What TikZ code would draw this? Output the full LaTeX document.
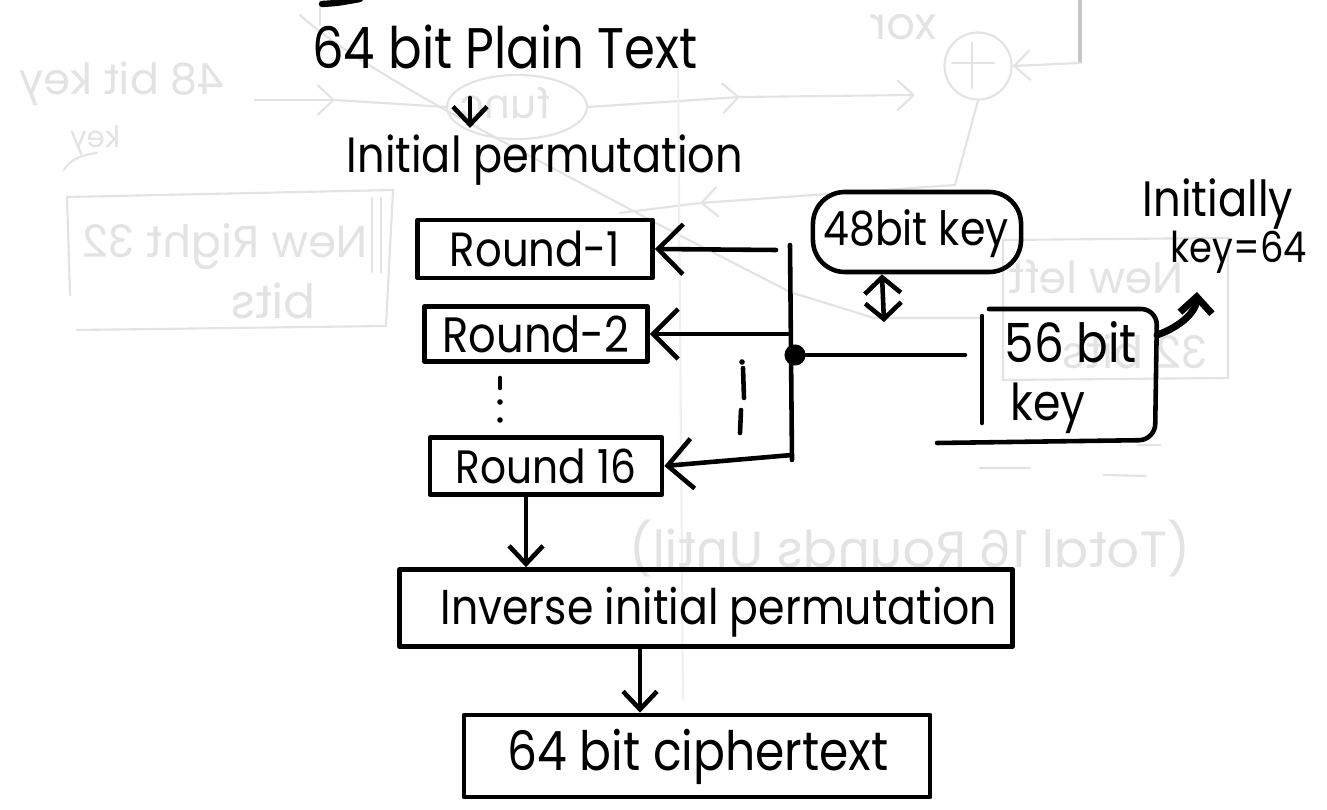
\documentclass[tikz,border=0pt]{standalone}
\usepackage{fontspec}
\setmainfont{Poppins}
\usepackage{graphicx}
\usetikzlibrary{arrows.meta,calc,shapes.geometric}
% text scaled to a given width (slightly tall, like the pen lettering), and mirrored text
\newcommand\fitw[2]{\scalebox{1}[1.15]{\resizebox{#1}{!}{#2}}}
\newcommand\mirw[2]{\reflectbox{\resizebox{#1}{!}{#2}}}
\begin{document}
\begin{tikzpicture}[x=0.01cm,y=-0.01cm,
  ink/.style={line width=1.3pt,line cap=round,line join=round},
  lbl/.style={inner sep=0pt},
  box/.style={ink,draw,inner sep=0pt},
  bigbarb/.style={-{Straight Barb[length=2.5mm,width=5mm]}},
  smallbarb/.style={-{Straight Barb[length=1.8mm,width=3.4mm]}},
  faint/.style={draw=gray!22,line width=0.6pt,line cap=round},
  faintbarb/.style={faint,-{Straight Barb[length=1.6mm,width=3mm]}},
  ftext/.style={text=gray!22,inner sep=0pt},
  dot/.style={circle,fill=black,inner sep=0pt,minimum size=7pt}]
\useasboundingbox[fill=white] (0,0) rectangle (1327,810);

% ---------- show-through from the reverse side of the sheet ----------
\node[ftext] (bxor) at (903,27) {\mirw{0.67cm}{xor}};
\node[faint,draw,circle,minimum size=0.67cm] (bplus) at (978,66) {};
\draw[faint] (952,63) -- (994,63) (972,43) -- (972,88);
\draw[draw=gray!45,line width=1pt] (1080,-2) -- (1080,63);
\draw[faintbarb] (1080,63) -- (bplus.east);
\draw[faintbarb] (bplus.south) -- (955,185) -- (700,203);
\draw[faint] (700,203) -- (620,213);
\node[faint,draw,ellipse,minimum width=1.4cm,minimum height=0.64cm] (bfunc) at (517,107) {};
\node[ftext] at (505,103) {\mirw{0.9cm}{func}};
\draw[faintbarb] (255,100) -- (335,100);
\draw[faint] (335,100) -- (bfunc.west);
\draw[faintbarb] (bfunc.east) -- (740,97);
\draw[faintbarb] (740,97) -- (915,95);
\draw[faint] (300,15) .. controls (360,70) and (520,150) .. (650,220) -- (790,292) -- (874,318) -- (982,318);
\draw[faint] (320,0) -- (320,25);
\draw[line width=1.8pt,line cap=round] (322,4) .. controls (338,3) .. (360,-1);
\draw[draw=gray!12,line width=0.6pt] (678,60) -- (683,700);
% left box
\draw[faint] (67,197) -- (393,190) -- (386,326) -- (77,330);
\draw[faint] (67,197) -- (70,295);
\draw[faint] (372,198) -- (372,272) (381,198) -- (381,272);
\node[ftext] at (225,247) {\mirw{2.85cm}{New Right 32}};
\node[ftext] at (273,301) {\mirw{0.85cm}{bits}};
\node[ftext] at (122,84) {\mirw{2.05cm}{48 bit key}};
\node[ftext] at (95,140) {\mirw{0.5cm}{key}};
\draw[faint] (97,153) .. controls (80,155) and (70,160) .. (64,170);
% right box
\draw[faint] (1003,240) -- (1228,238) -- (1228,378) -- (1003,380) -- cycle;
\node[ftext] at (1096,277) {\mirw{1.75cm}{New left}};
\node[ftext] at (1135,352) {\mirw{1.45cm}{32 bits}};
\node[ftext] at (910,548) {\mirw{5.6cm}{(Total 16 Rounds Until)}};
\draw[faint] (1138,445) -- (1160,445) (980,468) -- (1030,468) (1104,475) -- (1146,476);

% ---------- DES block diagram ----------
\node[lbl] (pt) at (505,47) {\fitw{3.85cm}{64 bit Plain Text}};
\node[lbl] (ip) at (545,160) {\fitw{3.96cm}{Initial permutation}};
\coordinate (pa) at (470,98);
\coordinate (pb) at (470,128);
\draw[ink,smallbarb] (pa) -- (pb);

\node[box,minimum width=2.35cm,minimum height=0.58cm] (r1) at (535,249) {\fitw{1.7cm}{Round-1}};
\node[box,minimum width=2.23cm,minimum height=0.55cm] (r2) at (536,334) {\fitw{1.87cm}{Round-2}};
\node[box,minimum width=2.32cm,minimum height=0.57cm] (r16) at (546,466) {\fitw{1.8cm}{Round 16}};
% continuation marks between the rounds
\draw[ink] (500,378) -- (500,388);
\fill (500,402) circle (2.8);
\fill (500,420) circle (2.8);

% key distribution bus
\coordinate (bt) at (790,245);
\coordinate (bb) at (792,460);
\draw[ink] (bt) -- (bb);
\coordinate (b1) at (776,250);
\coordinate (b2) at (790,334);
\coordinate (b3) at (792,455);
\draw[ink,bigbarb] (b1) -- (r1.east);
\draw[ink,bigbarb] (b2) -- (r2.east);
\draw[ink,bigbarb] (b3) -- (r16.east);
\fill (742,362) circle (2.8);
\draw[ink] (743,368) -- (744,398) (741,410) -- (740,433);

% keys
\node[box,rounded corners=0.32cm,minimum width=2.08cm,minimum height=0.8cm] (k48) at (917,232) {};
\node[lbl] (k48t) at (916,234) {\fitw{1.85cm}{48bit key}};
\node[inner sep=0pt,minimum width=1.75cm,minimum height=1.34cm] (k56) at (1069,376) {};
\draw[ink] (982,316) -- (982,423);
\draw[ink,rounded corners=0.16cm] (989,309) -- (1157,309) -- (1155,440) -- (937,443);
\node[lbl] (k56a) at (1071,342) {\fitw{1.32cm}{56 bit}};
\node[lbl] (k56b) at (1048,408) {\fitw{0.75cm}{key}};
\coordinate (kin) at (965,355);
\node[dot,minimum size=6pt] (bd) at (795,355) {};
\draw[ink] (bd) -- (kin);
\coordinate (kd) at (884,322);
\draw[ink,{Straight Barb[length=1.6mm,width=3.6mm]}-{Straight Barb[length=1.6mm,width=3.6mm]}] ([xshift=-0.35cm]k48.south) -- (kd);

\node[lbl] (ini) at (1218,204) {\fitw{1.5cm}{Initially}};
\node[lbl] (k64) at (1239,252) {\fitw{1.36cm}{key=64}};
\coordinate (ke) at (1157,335);
\coordinate (kk) at (1197,292);
\draw[ink,line width=2pt,-{Straight Barb[length=1.6mm,width=3.2mm]}] (ke) .. controls (1180,327) and (1196,312) .. (kk);

% output stage
\node[box,minimum width=6.13cm,minimum height=0.77cm] (inv) at (706,608) {};
\node[lbl] (invt) at (719,612) {\fitw{5.56cm}{Inverse initial permutation}};
\draw[ink,smallbarb] (r16.south -| 526,0) -- (inv.north -| 526,0);
\node[box,minimum width=4.66cm,minimum height=0.82cm] (ct) at (697,756) {};
\node[lbl] (ctt) at (698,757) {\fitw{3.81cm}{64 bit ciphertext}};
\draw[ink,smallbarb] (inv.south -| 640,0) -- (ct.north -| 640,0);
\end{tikzpicture}
\end{document}
